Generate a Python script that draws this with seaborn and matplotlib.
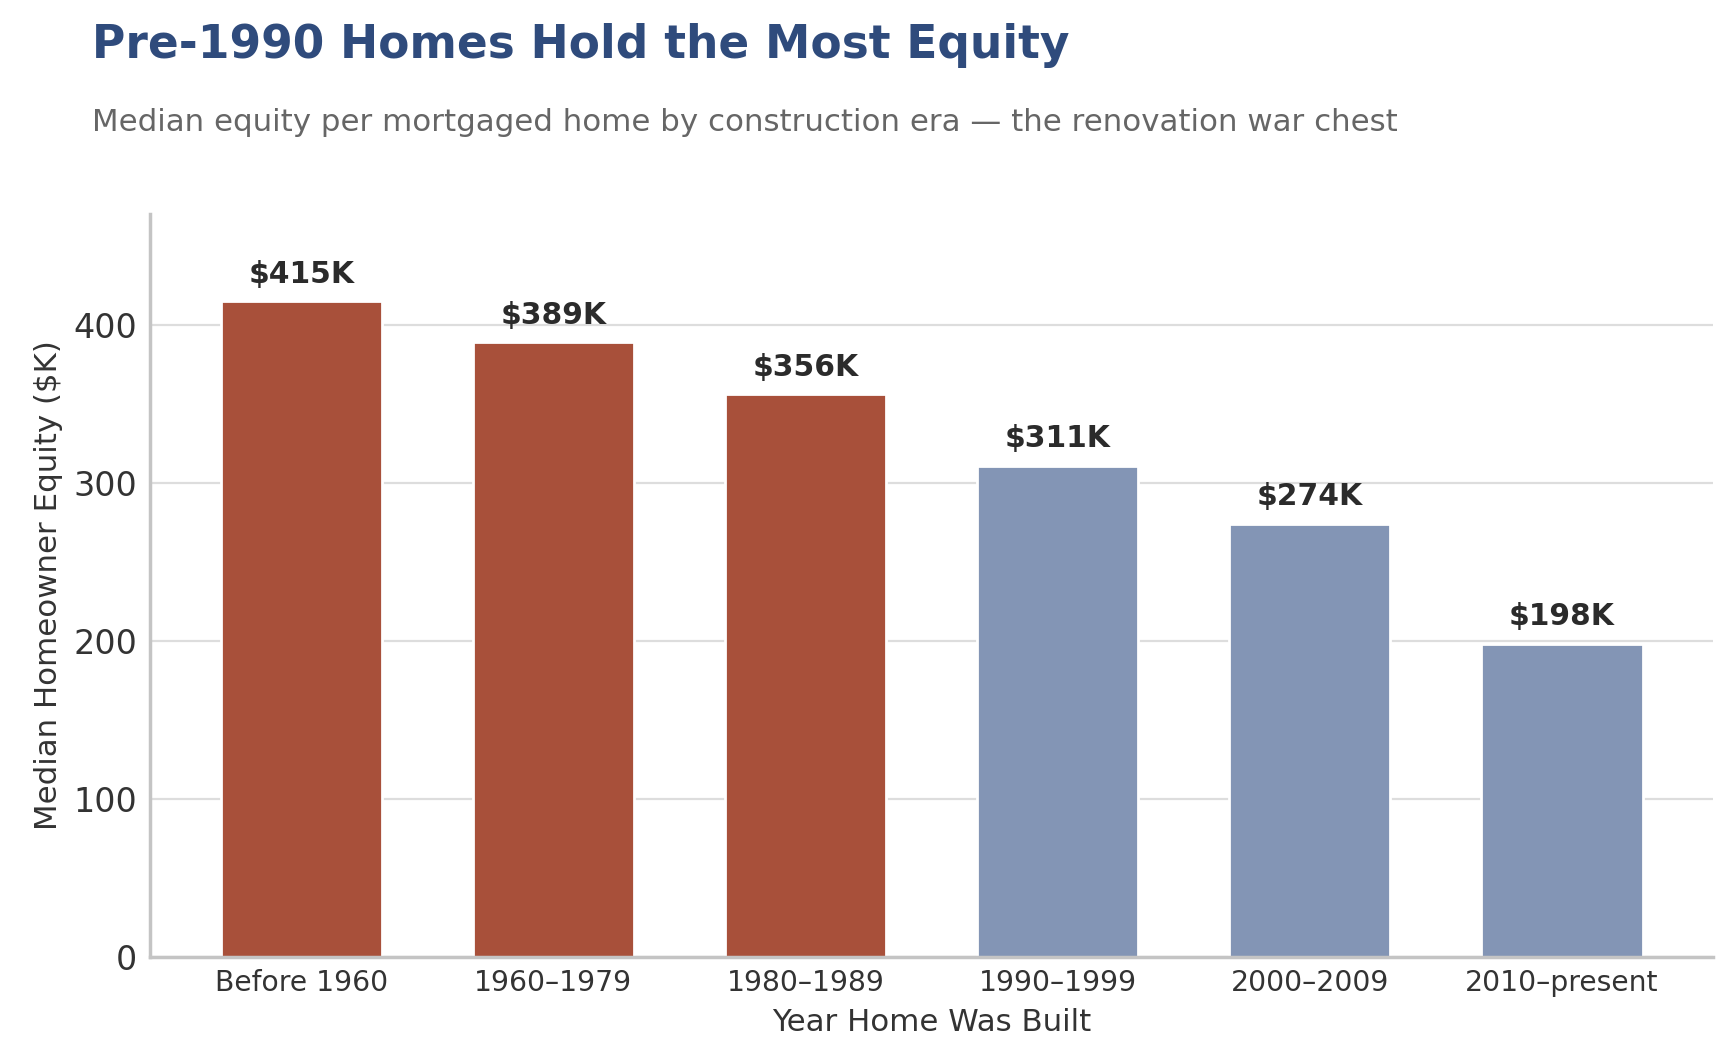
import matplotlib
matplotlib.use("Agg")
import matplotlib.pyplot as plt
import seaborn as sns
import pandas as pd

# data
eras = ["Before 1960", "1960\u20131979", "1980\u20131989", "1990\u20131999", "2000\u20132009", "2010\u2013present"]
equity_k = [415, 389, 356, 311, 274, 198]
pre_1990 = [True, True, True, False, False, False]

RUST = "#A8503A"
SLATE = "#8395B5"
NAVY = "#2F4B7C"

df = pd.DataFrame({"era": eras, "equity": equity_k,
                   "group": ["pre" if p else "post" for p in pre_1990]})

sns.set_theme(style="whitegrid")
plt.rcParams["font.family"] = ["DejaVu Sans"]
plt.rcParams["grid.color"] = "#dddddd"
plt.rcParams["axes.edgecolor"] = "#c4c4c4"

fig = plt.figure(figsize=(8.67, 5.28), dpi=200)
ax = fig.add_axes([0.0865, 0.094, 0.9015, 0.703])

sns.barplot(data=df, x="era", y="equity", hue="group",
            palette={"pre": RUST, "post": SLATE}, width=0.64,
            dodge=False, legend=False, saturation=1, ax=ax)

for i, v in enumerate(equity_k):
    ax.text(i, v + 8, f"${v}K", ha="center", va="bottom",
            fontsize=10.7, fontweight="bold", color="#2b2b2b")

ax.set_xlim(-0.6, 5.6)
ax.set_ylim(0, 470)
ax.set_yticks([0, 100, 200, 300, 400])
ax.tick_params(axis="both", length=0, pad=4.5)
ax.tick_params(axis="y", labelsize=12, colors="#333333")
ax.tick_params(axis="x", labelsize=10.2, colors="#333333")
ax.set_xlabel("Year Home Was Built", fontsize=11.1, color="#333333")
ax.set_ylabel("Median Homeowner Equity ($K)", fontsize=11.1, color="#333333")
ax.yaxis.grid(True, linewidth=0.8)
ax.xaxis.grid(False)
sns.despine(ax=ax)

fig.text(0.053, 0.945, "Pre-1990 Homes Hold the Most Equity", fontsize=16.4,
         fontweight="bold", color=NAVY, va="baseline")
fig.text(0.053, 0.876, "Median equity per mortgaged home by construction era \u2014 the renovation war chest",
         fontsize=11.1, color="#666666", va="baseline")

fig.savefig("out.png", dpi=200)
